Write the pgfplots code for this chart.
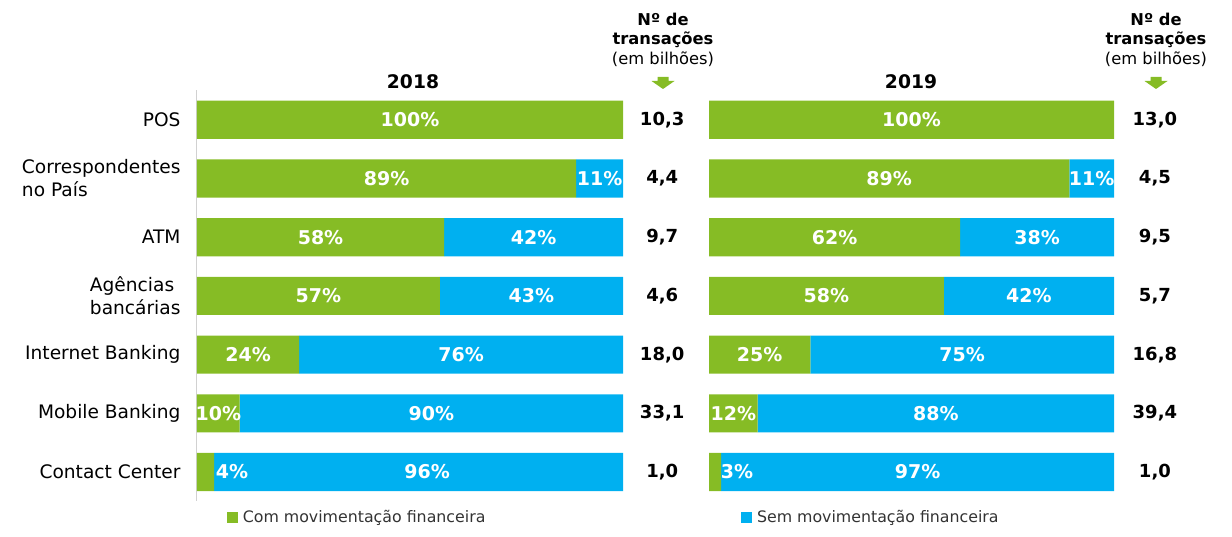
\documentclass[border=0pt]{standalone}
\usepackage{pgfplots}
\pgfplotsset{compat=1.18}
\usepackage{pgfplotstable}
\usepackage{fontspec}
\setmainfont{DejaVu Sans}
\definecolor{cgreen}{HTML}{86BC25}
\definecolor{cblue}{HTML}{00B0F0}

\pgfplotstableread{
idx com sem comx semx total comlab semlab
0 100 0  50   50   10,3 100\% {}
1 89  11 44.5 94.5 4,4  89\%  11\%
2 58  42 29   79   9,7  58\%  42\%
3 57  43 28.5 78.5 4,6  57\%  43\%
4 24  76 12   62   18,0 24\%  76\%
5 10  90 5    55   33,1 10\%  90\%
6 4   96 8.2  54   1,0  4\%   96\%
}\dataA
\pgfplotstableread{
idx com sem comx semx total comlab semlab
0 100 0  50   50   13,0 100\% {}
1 89  11 44.5 94.5 4,5  89\%  11\%
2 62  38 31   81   9,5  62\%  38\%
3 58  42 29   79   5,7  58\%  42\%
4 25  75 12.5 62.5 16,8 25\%  75\%
5 12  88 6    56   39,4 12\%  88\%
6 3   97 6.9  51.5 1,0  3\%   97\%
}\dataB

\tikzset{
  pct/.style={font=\bfseries\fontsize{19}{22}\selectfont, text=white, inner sep=0pt},
  tot/.style={font=\bfseries\fontsize{18}{22}\selectfont, text=black, inner sep=0pt},
}
\pgfplotsset{
  panel/.style={
    xbar stacked, scale only axis, height=411pt,
    bar width=0.65, ymin=-0.5, ymax=6.5, y dir=reverse,
    xmin=0, xmax=100, clip=false,
    axis x line=none,
    legend style={draw=none, fill=none, inner sep=0pt, outer sep=0pt,
      font=\fontsize{15.8}{18}\selectfont, text=black!80,
      legend cell align=left, anchor=north west, column sep=3pt},
    legend image code/.code={\fill[##1] (0pt,-5.5pt) rectangle (11pt,5.5pt);},
  },
}

\newcommand{\rowlabels}[3]{% table, idx, totx
  \pgfplotstablegetelem{#2}{comx}\of#1 \let\cx\pgfplotsretval
  \pgfplotstablegetelem{#2}{comlab}\of#1 \let\cl\pgfplotsretval
  \pgfplotstablegetelem{#2}{semx}\of#1 \let\sx\pgfplotsretval
  \pgfplotstablegetelem{#2}{semlab}\of#1 \let\slb\pgfplotsretval
  \pgfplotstablegetelem{#2}{total}\of#1 \let\tv\pgfplotsretval
  \edef\tmp{\noexpand\node[pct] at (axis cs:\cx,#2) {\cl};
    \noexpand\node[pct] at (axis cs:\sx,#2) {\slb};
    \noexpand\node[tot] at (axis cs:#3,#2) {\tv};}%
  \tmp
}
\newcommand{\alllabels}[2]{\foreach \i in {0,...,6}{\rowlabels{#1}{\i}{#2}}}

\begin{document}
\begin{tikzpicture}[x=1pt,y=1pt]
\useasboundingbox (0pt,0pt) rectangle (1232pt,536pt);

% ---------- 2018 ----------
\begin{axis}[panel, width=426pt, at={(197pt,34.6pt)}, anchor=south west,
  axis y line*=left, y axis line style={-, draw=black!18, line width=1pt},
  ytick={0,...,6},
  yticklabels={POS,{Correspondentes\\no País},ATM,{Agências\\bancárias},Internet Banking,Mobile Banking,Contact Center},
  major tick length=0pt,
  yticklabel style={align=left, font=\fontsize{18.6}{23}\selectfont, text=black, xshift=-13pt},
  legend style={at={(0.07,-0.017)}},
  after end axis/.code={\alllabels{\dataA}{109.2}}]
\addplot[fill=cgreen, draw=none] table[x=com, y=idx]{\dataA};
\addlegendentry{Com movimentação financeira}
\addplot[fill=cblue, draw=none, forget plot] table[x=sem, y=idx]{\dataA};
\end{axis}

% ---------- 2019 ----------
\begin{axis}[panel, width=405pt, at={(709pt,34.6pt)}, anchor=south west,
  axis y line=none, ytick=\empty,
  legend style={at={(0.079,-0.017)}},
  after end axis/.code={\alllabels{\dataB}{110.1}}]
\addplot[fill=cgreen, draw=none, forget plot] table[x=com, y=idx]{\dataB};
\addplot[fill=cblue, draw=none] table[x=sem, y=idx]{\dataB};
\addlegendentry{Sem movimentação financeira}
\end{axis}

% titles
\node[font=\bfseries\fontsize{18.7}{22}\selectfont] at (413pt,454pt) {2018};
\node[font=\bfseries\fontsize{18.7}{22}\selectfont] at (911pt,454pt) {2019};

% headers
\foreach \hx in {663,1156}{
  \node[align=center, inner sep=0pt, font=\fontsize{16.3}{19.5}\selectfont] at (\hx pt,496.5pt)
    {\textbf{Nº de}\\\textbf{transações}\\(em bilhões)};
  \fill[cgreen] (\hx pt-5.5pt,459pt) -- (\hx pt+5.5pt,459pt) -- (\hx pt+5.5pt,455pt) -- (\hx pt+11.5pt,455pt)
    -- (\hx pt,447pt) -- (\hx pt-11.5pt,455pt) -- (\hx pt-5.5pt,455pt) -- cycle;
}
\end{tikzpicture}
\end{document}
